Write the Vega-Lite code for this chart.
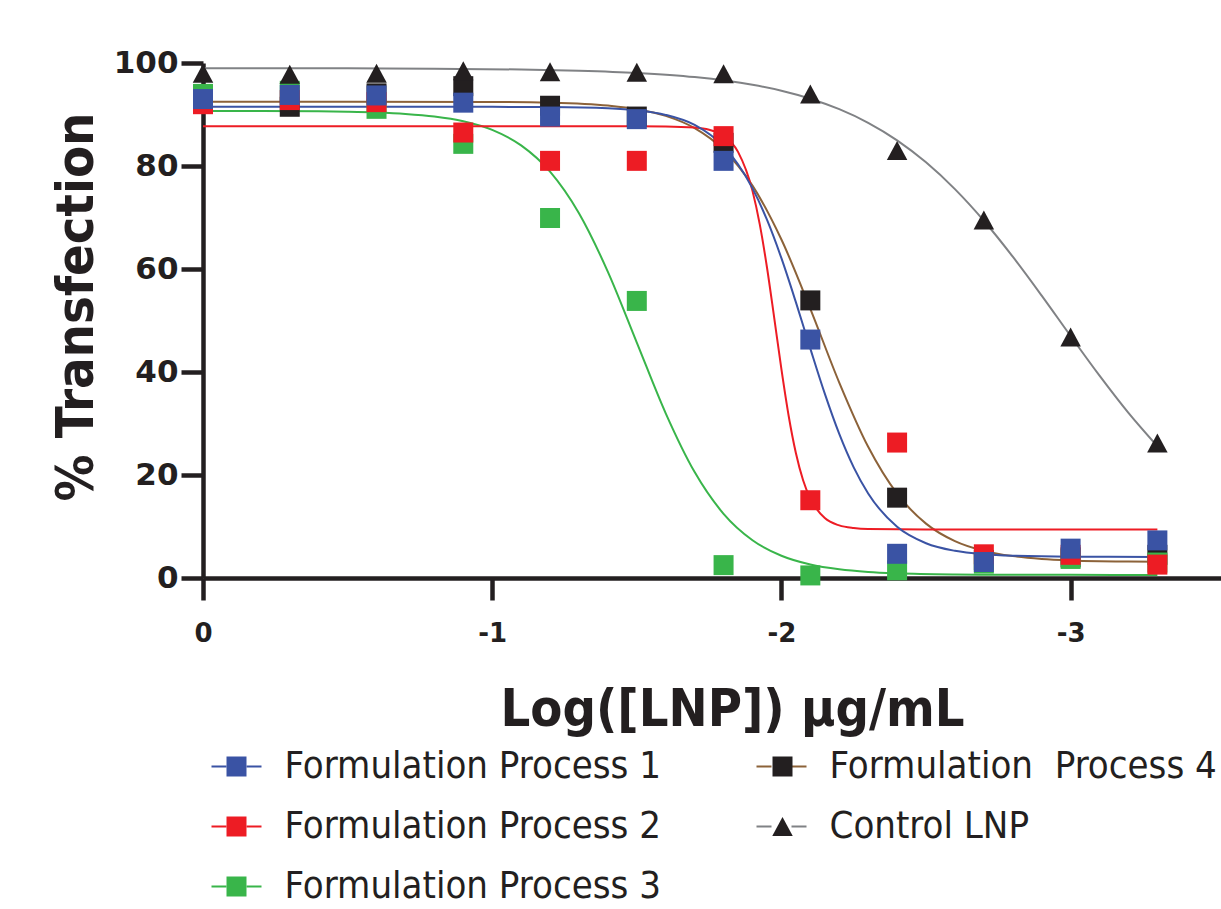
{
  "$schema": "https://vega.github.io/schema/vega-lite/v6.json",
  "width": 1018,
  "height": 515,
  "autosize": "none",
  "padding": {"left": 203, "top": 63, "right": 0, "bottom": 331},
  "background": "white",
  "datasets": {
    "curves": [
      {"series": "Control LNP", "logc": 0, "pct": 99.0},
      {"series": "Control LNP", "logc": -0.5, "pct": 98.96},
      {"series": "Control LNP", "logc": -0.8, "pct": 98.9},
      {"series": "Control LNP", "logc": -1.1, "pct": 98.74},
      {"series": "Control LNP", "logc": -1.3, "pct": 98.5},
      {"series": "Control LNP", "logc": -1.5, "pct": 98.07},
      {"series": "Control LNP", "logc": -1.7, "pct": 97.26},
      {"series": "Control LNP", "logc": -1.9, "pct": 95.77},
      {"series": "Control LNP", "logc": -2.0, "pct": 94.62},
      {"series": "Control LNP", "logc": -2.1, "pct": 93.07},
      {"series": "Control LNP", "logc": -2.2, "pct": 91.03},
      {"series": "Control LNP", "logc": -2.3, "pct": 88.39},
      {"series": "Control LNP", "logc": -2.4, "pct": 84.99},
      {"series": "Control LNP", "logc": -2.5, "pct": 80.72},
      {"series": "Control LNP", "logc": -2.6, "pct": 75.51},
      {"series": "Control LNP", "logc": -2.7, "pct": 69.37},
      {"series": "Control LNP", "logc": -2.8, "pct": 62.39},
      {"series": "Control LNP", "logc": -2.9, "pct": 54.83},
      {"series": "Control LNP", "logc": -3.0, "pct": 46.99},
      {"series": "Control LNP", "logc": -3.1, "pct": 39.29},
      {"series": "Control LNP", "logc": -3.2, "pct": 32.06},
      {"series": "Control LNP", "logc": -3.3, "pct": 25.59},

      {"series": "Formulation\u00a0 Process 4", "logc": 0, "pct": 92.5},
      {"series": "Formulation\u00a0 Process 4", "logc": -0.5, "pct": 92.5},
      {"series": "Formulation\u00a0 Process 4", "logc": -1.0, "pct": 92.44},
      {"series": "Formulation\u00a0 Process 4", "logc": -1.2, "pct": 92.29},
      {"series": "Formulation\u00a0 Process 4", "logc": -1.4, "pct": 91.73},
      {"series": "Formulation\u00a0 Process 4", "logc": -1.5, "pct": 91.04},
      {"series": "Formulation\u00a0 Process 4", "logc": -1.6, "pct": 89.74},
      {"series": "Formulation\u00a0 Process 4", "logc": -1.7, "pct": 87.36},
      {"series": "Formulation\u00a0 Process 4", "logc": -1.8, "pct": 83.17},
      {"series": "Formulation\u00a0 Process 4", "logc": -1.9, "pct": 76.19},
      {"series": "Formulation\u00a0 Process 4", "logc": -2.0, "pct": 65.73},
      {"series": "Formulation\u00a0 Process 4", "logc": -2.1, "pct": 52.28},
      {"series": "Formulation\u00a0 Process 4", "logc": -2.2, "pct": 37.95},
      {"series": "Formulation\u00a0 Process 4", "logc": -2.3, "pct": 25.47},
      {"series": "Formulation\u00a0 Process 4", "logc": -2.4, "pct": 16.37},
      {"series": "Formulation\u00a0 Process 4", "logc": -2.5, "pct": 10.56},
      {"series": "Formulation\u00a0 Process 4", "logc": -2.6, "pct": 7.16},
      {"series": "Formulation\u00a0 Process 4", "logc": -2.7, "pct": 5.27},
      {"series": "Formulation\u00a0 Process 4", "logc": -2.8, "pct": 4.25},
      {"series": "Formulation\u00a0 Process 4", "logc": -2.9, "pct": 3.7},
      {"series": "Formulation\u00a0 Process 4", "logc": -3.0, "pct": 3.42},
      {"series": "Formulation\u00a0 Process 4", "logc": -3.1, "pct": 3.27},
      {"series": "Formulation\u00a0 Process 4", "logc": -3.2, "pct": 3.19},
      {"series": "Formulation\u00a0 Process 4", "logc": -3.3, "pct": 3.15},

      {"series": "Formulation Process 3", "logc": 0, "pct": 90.69},
      {"series": "Formulation Process 3", "logc": -0.2, "pct": 90.68},
      {"series": "Formulation Process 3", "logc": -0.4, "pct": 90.61},
      {"series": "Formulation Process 3", "logc": -0.5, "pct": 90.53},
      {"series": "Formulation Process 3", "logc": -0.6, "pct": 90.39},
      {"series": "Formulation Process 3", "logc": -0.7, "pct": 90.12},
      {"series": "Formulation Process 3", "logc": -0.8, "pct": 89.62},
      {"series": "Formulation Process 3", "logc": -0.9, "pct": 88.69},
      {"series": "Formulation Process 3", "logc": -1.0, "pct": 87.01},
      {"series": "Formulation Process 3", "logc": -1.1, "pct": 84.0},
      {"series": "Formulation Process 3", "logc": -1.2, "pct": 78.91},
      {"series": "Formulation Process 3", "logc": -1.3, "pct": 70.83},
      {"series": "Formulation Process 3", "logc": -1.4, "pct": 59.45},
      {"series": "Formulation Process 3", "logc": -1.5, "pct": 45.72},
      {"series": "Formulation Process 3", "logc": -1.6, "pct": 31.98},
      {"series": "Formulation Process 3", "logc": -1.7, "pct": 20.56},
      {"series": "Formulation Process 3", "logc": -1.8, "pct": 12.46},
      {"series": "Formulation Process 3", "logc": -1.9, "pct": 7.33},
      {"series": "Formulation Process 3", "logc": -2.0, "pct": 4.32},
      {"series": "Formulation Process 3", "logc": -2.1, "pct": 2.62},
      {"series": "Formulation Process 3", "logc": -2.2, "pct": 1.69},
      {"series": "Formulation Process 3", "logc": -2.3, "pct": 1.18},
      {"series": "Formulation Process 3", "logc": -2.4, "pct": 0.91},
      {"series": "Formulation Process 3", "logc": -2.6, "pct": 0.69},
      {"series": "Formulation Process 3", "logc": -2.8, "pct": 0.63},
      {"series": "Formulation Process 3", "logc": -3.0, "pct": 0.61},
      {"series": "Formulation Process 3", "logc": -3.3, "pct": 0.6},

      {"series": "Formulation Process 2", "logc": 0, "pct": 87.7},
      {"series": "Formulation Process 2", "logc": -1.0, "pct": 87.7},
      {"series": "Formulation Process 2", "logc": -1.5, "pct": 87.7},
      {"series": "Formulation Process 2", "logc": -1.6, "pct": 87.67},
      {"series": "Formulation Process 2", "logc": -1.7, "pct": 87.46},
      {"series": "Formulation Process 2", "logc": -1.75, "pct": 87.04},
      {"series": "Formulation Process 2", "logc": -1.8, "pct": 85.86},
      {"series": "Formulation Process 2", "logc": -1.85, "pct": 82.74},
      {"series": "Formulation Process 2", "logc": -1.9, "pct": 75.17},
      {"series": "Formulation Process 2", "logc": -1.925, "pct": 68.72},
      {"series": "Formulation Process 2", "logc": -1.95, "pct": 60.34},
      {"series": "Formulation Process 2", "logc": -1.975, "pct": 50.57},
      {"series": "Formulation Process 2", "logc": -2.0, "pct": 40.55},
      {"series": "Formulation Process 2", "logc": -2.025, "pct": 31.51},
      {"series": "Formulation Process 2", "logc": -2.05, "pct": 24.27},
      {"series": "Formulation Process 2", "logc": -2.075, "pct": 18.99},
      {"series": "Formulation Process 2", "logc": -2.1, "pct": 15.41},
      {"series": "Formulation Process 2", "logc": -2.15, "pct": 11.64},
      {"series": "Formulation Process 2", "logc": -2.2, "pct": 10.21},
      {"series": "Formulation Process 2", "logc": -2.25, "pct": 9.69},
      {"series": "Formulation Process 2", "logc": -2.3, "pct": 9.5},
      {"series": "Formulation Process 2", "logc": -2.5, "pct": 9.4},
      {"series": "Formulation Process 2", "logc": -3.3, "pct": 9.4},

      {"series": "Formulation Process 1", "logc": 0, "pct": 91.5},
      {"series": "Formulation Process 1", "logc": -0.5, "pct": 91.5},
      {"series": "Formulation Process 1", "logc": -1.0, "pct": 91.49},
      {"series": "Formulation Process 1", "logc": -1.2, "pct": 91.44},
      {"series": "Formulation Process 1", "logc": -1.4, "pct": 91.19},
      {"series": "Formulation Process 1", "logc": -1.5, "pct": 90.8},
      {"series": "Formulation Process 1", "logc": -1.6, "pct": 89.92},
      {"series": "Formulation Process 1", "logc": -1.7, "pct": 87.97},
      {"series": "Formulation Process 1", "logc": -1.8, "pct": 83.8},
      {"series": "Formulation Process 1", "logc": -1.85, "pct": 80.35},
      {"series": "Formulation Process 1", "logc": -1.9, "pct": 75.66},
      {"series": "Formulation Process 1", "logc": -1.95, "pct": 69.57},
      {"series": "Formulation Process 1", "logc": -2.0, "pct": 62.1},
      {"series": "Formulation Process 1", "logc": -2.05, "pct": 53.56},
      {"series": "Formulation Process 1", "logc": -2.1, "pct": 44.54},
      {"series": "Formulation Process 1", "logc": -2.15, "pct": 35.79},
      {"series": "Formulation Process 1", "logc": -2.2, "pct": 27.98},
      {"series": "Formulation Process 1", "logc": -2.25, "pct": 21.49},
      {"series": "Formulation Process 1", "logc": -2.3, "pct": 16.42},
      {"series": "Formulation Process 1", "logc": -2.4, "pct": 9.94},
      {"series": "Formulation Process 1", "logc": -2.5, "pct": 6.75},
      {"series": "Formulation Process 1", "logc": -2.6, "pct": 5.28},
      {"series": "Formulation Process 1", "logc": -2.7, "pct": 4.62},
      {"series": "Formulation Process 1", "logc": -2.8, "pct": 4.33},
      {"series": "Formulation Process 1", "logc": -3.0, "pct": 4.14},
      {"series": "Formulation Process 1", "logc": -3.3, "pct": 4.1}
    ],
    "points": [
      {"series": "Formulation\u00a0 Process 4", "ord": 4, "logc": 0, "pct": 92.5},
      {"series": "Formulation\u00a0 Process 4", "ord": 4, "logc": -0.3, "pct": 91.5},
      {"series": "Formulation\u00a0 Process 4", "ord": 4, "logc": -0.6, "pct": 94.1},
      {"series": "Formulation\u00a0 Process 4", "ord": 4, "logc": -0.9, "pct": 95.5},
      {"series": "Formulation\u00a0 Process 4", "ord": 4, "logc": -1.2, "pct": 91.7},
      {"series": "Formulation\u00a0 Process 4", "ord": 4, "logc": -1.5, "pct": 89.6},
      {"series": "Formulation\u00a0 Process 4", "ord": 4, "logc": -1.8, "pct": 84.5},
      {"series": "Formulation\u00a0 Process 4", "ord": 4, "logc": -2.1, "pct": 53.9},
      {"series": "Formulation\u00a0 Process 4", "ord": 4, "logc": -2.4, "pct": 15.6},
      {"series": "Formulation\u00a0 Process 4", "ord": 4, "logc": -2.7, "pct": 3.5},
      {"series": "Formulation\u00a0 Process 4", "ord": 4, "logc": -3.0, "pct": 4.0},
      {"series": "Formulation\u00a0 Process 4", "ord": 4, "logc": -3.3, "pct": 4.5},

      {"series": "Formulation Process 3", "ord": 3, "logc": 0, "pct": 94.0},
      {"series": "Formulation Process 3", "ord": 3, "logc": -0.3, "pct": 94.6},
      {"series": "Formulation Process 3", "ord": 3, "logc": -0.6, "pct": 91.1},
      {"series": "Formulation Process 3", "ord": 3, "logc": -0.9, "pct": 84.3},
      {"series": "Formulation Process 3", "ord": 3, "logc": -1.2, "pct": 69.9},
      {"series": "Formulation Process 3", "ord": 3, "logc": -1.5, "pct": 53.8},
      {"series": "Formulation Process 3", "ord": 3, "logc": -1.8, "pct": 2.5},
      {"series": "Formulation Process 3", "ord": 3, "logc": -2.1, "pct": 0.5},
      {"series": "Formulation Process 3", "ord": 3, "logc": -2.4, "pct": 1.5},
      {"series": "Formulation Process 3", "ord": 3, "logc": -2.7, "pct": 2.8},
      {"series": "Formulation Process 3", "ord": 3, "logc": -3.0, "pct": 3.7},
      {"series": "Formulation Process 3", "ord": 3, "logc": -3.3, "pct": 3.0},

      {"series": "Formulation Process 2", "ord": 2, "logc": 0, "pct": 92.0},
      {"series": "Formulation Process 2", "ord": 2, "logc": -0.3, "pct": 92.8},
      {"series": "Formulation Process 2", "ord": 2, "logc": -0.6, "pct": 92.4},
      {"series": "Formulation Process 2", "ord": 2, "logc": -0.9, "pct": 86.5},
      {"series": "Formulation Process 2", "ord": 2, "logc": -1.2, "pct": 81.0},
      {"series": "Formulation Process 2", "ord": 2, "logc": -1.5, "pct": 81.0},
      {"series": "Formulation Process 2", "ord": 2, "logc": -1.8, "pct": 85.8},
      {"series": "Formulation Process 2", "ord": 2, "logc": -2.1, "pct": 15.1},
      {"series": "Formulation Process 2", "ord": 2, "logc": -2.4, "pct": 26.3},
      {"series": "Formulation Process 2", "ord": 2, "logc": -2.7, "pct": 4.6},
      {"series": "Formulation Process 2", "ord": 2, "logc": -3.0, "pct": 4.5},
      {"series": "Formulation Process 2", "ord": 2, "logc": -3.3, "pct": 2.6},

      {"series": "Formulation Process 1", "ord": 1, "logc": 0, "pct": 93.0},
      {"series": "Formulation Process 1", "ord": 1, "logc": -0.3, "pct": 93.8},
      {"series": "Formulation Process 1", "ord": 1, "logc": -0.6, "pct": 93.7},
      {"series": "Formulation Process 1", "ord": 1, "logc": -0.9, "pct": 92.3},
      {"series": "Formulation Process 1", "ord": 1, "logc": -1.2, "pct": 89.6},
      {"series": "Formulation Process 1", "ord": 1, "logc": -1.5, "pct": 89.1},
      {"series": "Formulation Process 1", "ord": 1, "logc": -1.8, "pct": 81.0},
      {"series": "Formulation Process 1", "ord": 1, "logc": -2.1, "pct": 46.3},
      {"series": "Formulation Process 1", "ord": 1, "logc": -2.4, "pct": 4.7},
      {"series": "Formulation Process 1", "ord": 1, "logc": -2.7, "pct": 3.1},
      {"series": "Formulation Process 1", "ord": 1, "logc": -3.0, "pct": 5.7},
      {"series": "Formulation Process 1", "ord": 1, "logc": -3.3, "pct": 7.3},

      {"series": "Control LNP", "ord": 5, "logc": 0, "pct": 98.0},
      {"series": "Control LNP", "ord": 5, "logc": -0.3, "pct": 97.8},
      {"series": "Control LNP", "ord": 5, "logc": -0.6, "pct": 98.0},
      {"series": "Control LNP", "ord": 5, "logc": -0.9, "pct": 98.5},
      {"series": "Control LNP", "ord": 5, "logc": -1.2, "pct": 98.3},
      {"series": "Control LNP", "ord": 5, "logc": -1.5, "pct": 98.2},
      {"series": "Control LNP", "ord": 5, "logc": -1.8, "pct": 97.9},
      {"series": "Control LNP", "ord": 5, "logc": -2.1, "pct": 94.0},
      {"series": "Control LNP", "ord": 5, "logc": -2.4, "pct": 83.0},
      {"series": "Control LNP", "ord": 5, "logc": -2.7, "pct": 69.5},
      {"series": "Control LNP", "ord": 5, "logc": -3.0, "pct": 46.8},
      {"series": "Control LNP", "ord": 5, "logc": -3.3, "pct": 26.2}
    ]
  },
  "encoding": {
    "x": {
      "field": "logc",
      "type": "quantitative",
      "scale": {"domain": [0, -3.52], "nice": false, "zero": false},
      "axis": {
        "values": [0, -1, -2, -3],
        "labelExpr": "datum.value == 0 ? '0' : '-' + abs(datum.value)",
        "title": "Log([LNP]) µg/mL",
        "labelFontSize": 26,
        "labelPadding": 20,
        "titleX": 529,
        "titleY": 147,
        "titleAlign": "center",
        "titleBaseline": "alphabetic"
      }
    },
    "y": {
      "field": "pct",
      "type": "quantitative",
      "scale": {"domain": [0, 100], "nice": false},
      "axis": {
        "values": [0, 20, 40, 60, 80, 100],
        "title": "% Transfection",
        "labelFontSize": 31,
        "labelPadding": 3,
        "titleAngle": -90,
        "titleX": -111,
        "titleY": 243.5,
        "titleAlign": "center",
        "titleBaseline": "alphabetic"
      }
    }
  },
  "layer": [
    {
      "data": {"name": "curves"},
      "mark": {"type": "line", "strokeWidth": 2, "interpolate": "monotone"},
      "encoding": {
        "stroke": {
          "field": "series",
          "type": "nominal",
          "scale": {
            "domain": ["Formulation Process 1", "Formulation Process 2", "Formulation Process 3", "Formulation\u00a0 Process 4", "Control LNP"],
            "range": ["#3A53A4", "#ED1C24", "#39B54A", "#8C6239", "#808285"]
          },
          "legend": {
            "title": null,
            "orient": "none",
            "legendX": 14.5,
            "legendY": 684.5,
            "columns": 2,
            "columnPadding": 91,
            "rowPadding": 22,
            "padding": 0,
            "symbolType": "M-2,0H-0.8M0.8,0H2",
            "symbolSize": 625,
            "symbolStrokeWidth": 2,
            "labelOffset": 29,
            "labelFont": "DejaVu Sans Condensed, Liberation Sans Narrow, sans-serif",
            "labelFontSize": 38,
            "labelColor": "#231F20",
            "labelLimit": 800
          }
        }
      }
    },
    {
      "data": {"name": "points"},
      "mark": {"type": "point", "filled": true, "opacity": 1, "size": 625, "strokeWidth": 0},
      "encoding": {
        "fill": {
          "field": "series",
          "type": "nominal",
          "sort": {"field": "ord", "op": "min"},
          "scale": {"range": ["#3A53A4", "#ED1C24", "#39B54A", "#231F20", "#231F20"]},
          "legend": {
            "title": null,
            "orient": "none",
            "legendX": 14.5,
            "legendY": 684.5,
            "columns": 2,
            "columnPadding": 102,
            "rowPadding": 22,
            "padding": 0,
            "symbolSize": 625,
            "symbolStrokeWidth": 0,
            "labelOffset": 29,
            "labelFont": "DejaVu Sans Condensed, Liberation Sans Narrow, sans-serif",
            "labelFontSize": 38,
            "labelOpacity": 0,
            "labelLimit": 800
          }
        },
        "shape": {
          "field": "series",
          "type": "nominal",
          "sort": {"field": "ord", "op": "min"},
          "scale": {"range": ["M-0.8,-0.8H0.8V0.8H-0.8Z", "M-0.8,-0.8H0.8V0.8H-0.8Z", "M-0.8,-0.8H0.8V0.8H-0.8Z", "M-0.8,-0.8H0.8V0.8H-0.8Z", "M0,-0.76L0.82,0.76H-0.82Z"]},
          "legend": {
            "title": null,
            "orient": "none",
            "legendX": 14.5,
            "legendY": 684.5,
            "columns": 2,
            "columnPadding": 102,
            "rowPadding": 22,
            "padding": 0,
            "symbolSize": 625,
            "symbolStrokeWidth": 0,
            "labelOffset": 29,
            "labelFont": "DejaVu Sans Condensed, Liberation Sans Narrow, sans-serif",
            "labelFontSize": 38,
            "labelOpacity": 0,
            "labelLimit": 800
          }
        }
      }
    }
  ],
  "config": {
    "view": {"stroke": null},
    "axis": {
      "grid": false,
      "domainColor": "#231F20",
      "domainWidth": 4.5,
      "tickColor": "#231F20",
      "tickWidth": 4.5,
      "tickSize": 22,
      "labelFont": "DejaVu Sans",
      "labelFontWeight": "bold",
      "labelColor": "#231F20",
      "titleFont": "DejaVu Sans Condensed, Liberation Sans Narrow, sans-serif",
      "titleFontWeight": "bold",
      "titleFontSize": 52,
      "titleColor": "#231F20",
      "labelFlush": false,
      "labelOverlap": false
    }
  }
}
